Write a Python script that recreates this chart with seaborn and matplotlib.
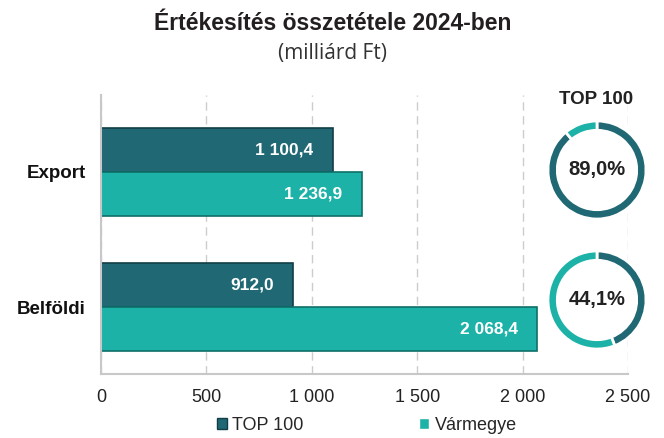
import numpy as np
import pandas as pd
import matplotlib
matplotlib.use("Agg")
import matplotlib.pyplot as plt
from matplotlib.patches import Patch
import seaborn as sns

# data
categories = ["Export", "Belföldi"]
series = ["TOP 100", "Vármegye"]
top100 = [1100.4, 912.0]
varmegye = [1236.9, 2068.4]
share_top100 = [89.0, 44.1]
x_ticks = [0, 500, 1000, 1500, 2000, 2500]

dark = "#1f6874"
teal = "#1cb2a7"
dark_edge = "#123f47"
teal_edge = "#0f6f68"


def hu(v, dec=1):
    s = f"{v:,.{dec}f}"
    return s.replace(",", " ").replace(".", ",")


df = pd.DataFrame({
    "cat": categories * 2,
    "series": [series[0]] * 2 + [series[1]] * 2,
    "value": top100 + varmegye,
})

sns.set_theme(style="white")
plt.rcParams["font.family"] = ["Liberation Sans", "DejaVu Sans"]

fig = plt.figure(figsize=(6.64, 4.38), dpi=100)
W, H = 664, 438
ax = fig.add_axes([101 / W, (H - 374) / H, (628 - 101) / W, (374 - 95) / H])

sns.barplot(data=df, y="cat", x="value", hue="series", orient="h",
            palette=[dark, teal], width=0.65, ax=ax, legend=False,
            linewidth=1.2, saturation=1)
for cont, ec in zip(ax.containers, [dark_edge, teal_edge]):
    for p in cont:
        p.set_edgecolor(ec)

for cont, vals in zip(ax.containers, [top100, varmegye]):
    ax.bar_label(cont, labels=[hu(v) for v in vals], padding=-14,
                 color="white", fontweight="bold", fontsize=12.5)
    for t in ax.texts[-len(vals):]:
        t.set_ha("right")

ax.set_xlim(0, 2500)
ax.set_ylim(1.496, -0.57)
ax.set_xticks(x_ticks)
ax.set_xticklabels([hu(v, 0) for v in x_ticks], fontsize=13, color="#222222")
ax.tick_params(axis="x", pad=11, length=0)
ax.tick_params(axis="y", pad=11, length=0)
ax.set_yticks([0, 1])
ax.set_yticklabels(categories, fontsize=13.5, fontweight="bold", color="#111111")
ax.set_xlabel("")
ax.set_ylabel("")
ax.grid(axis="x", color="#cccccc", linestyle=(0, (6, 4)), linewidth=1)
ax.set_axisbelow(True)
for s in ["top", "right"]:
    ax.spines[s].set_visible(False)
for s in ["left", "bottom"]:
    ax.spines[s].set_color("#c8c8c8")
    ax.spines[s].set_linewidth(1.5)

# donuts
centers = [(597, 170), (597, 300)]
r = 50
for (cx, cy), sh in zip(centers, share_top100):
    dax = fig.add_axes([(cx - r) / W, (H - cy - r) / H, 2 * r / W, 2 * r / H])
    dax.add_patch(plt.Circle((0, 0), 1.0, color="white", zorder=0))
    dax.pie([sh, 100 - sh], colors=[dark, teal], startangle=90,
            counterclock=False, radius=1.0,
            wedgeprops=dict(width=0.19, edgecolor="white", linewidth=2))
    dax.text(0, 0, hu(sh) + "%", ha="center", va="center",
             fontsize=14.5, fontweight="bold", color="#222222")
    dax.set_xlim(-1.02, 1.02)
    dax.set_ylim(-1.02, 1.02)
    dax.set_aspect("equal")
    dax.axis("off")

fig.text(596 / W, 1 - 100 / H, "TOP 100", ha="center", va="center",
         fontsize=13.5, fontweight="bold", color="#222222")

# titles
fig.text(333 / W, 1 - 23 / H, "Értékesítés összetétele 2024-ben",
         ha="center", va="center", fontsize=16.5, fontweight="bold",
         color="#231f20")
fig.text(333 / W, 1 - 54 / H, "(milliárd Ft)", ha="center", va="center",
         fontsize=15, color="#333333", family=["Open Sans", "DejaVu Sans"])

handles = [Patch(facecolor=dark, edgecolor=dark_edge), Patch(facecolor=teal)]
fig.legend(handles, series, loc="center", bbox_to_anchor=(367 / W, 1 - 425 / H),
           ncol=2, frameon=False, fontsize=13, handlelength=0.55,
           handleheight=0.55, handletextpad=0.3, columnspacing=6.4)

fig.savefig("out.png", dpi=100)
